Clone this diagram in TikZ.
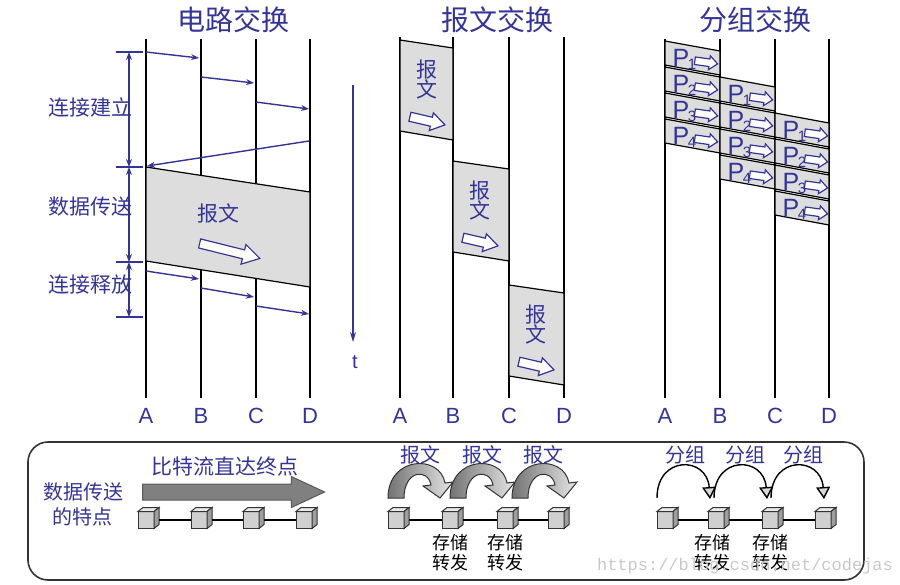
\documentclass[tikz,border=0pt]{standalone}
\usepackage{fontspec}
\setmainfont{Liberation Sans}
\newfontfamily\cjk{Noto Sans CJK SC}
\newfontfamily\wmfont{Liberation Mono}
\usetikzlibrary{arrows.meta, shapes.arrows}
\definecolor{inkblue}{RGB}{52,52,150}
\definecolor{bandgray}{RGB}{221,221,221}
\definecolor{cubefront}{RGB}{208,208,208}
\definecolor{cubetop}{RGB}{234,234,234}
\definecolor{cubeside}{RGB}{158,158,158}
\definecolor{markgray}{RGB}{200,200,200}

\tikzset{
  station/.style={line width=0.6pt},
  hop/.style={inkblue, line width=0.7pt, -{Stealth[length=4pt,width=3pt]}},
  span/.style={inkblue, line width=0.6pt, {Stealth[length=4pt,width=3pt]}-{Stealth[length=4pt,width=3pt]}},
  band/.style={fill=bandgray, draw=black, line width=0.6pt},
  title/.style={inkblue, font=\cjk\fontsize{14}{16}\selectfont},
  cnlabel/.style={inkblue, font=\cjk\fontsize{10.5}{12.5}\selectfont},
  letter/.style={inkblue, font=\fontsize{11}{13}\selectfont},
  hollow/.style={single arrow, draw=inkblue, fill=white, line width=0.6pt,
    inner xsep=0pt, outer sep=0pt, single arrow head indent=0pt},
  pktfwd/.style={line width=0.7pt, -{Triangle[length=6pt,width=7pt,fill=black!15]}},
  cubeface/.style={draw=black!80, fill=cubefront, line width=0.5pt, inner sep=0pt,
    outer sep=0pt, minimum width=8pt, minimum height=8.5pt},
  cubeedge/.style={draw=black!80, line width=0.5pt},
  link/.style={line width=0.6pt, shorten <=2.5pt},
  note/.style={font=\cjk\fontsize{9}{10}\selectfont},
}

\newcommand{\netcube}[2]{%
  \node[cubeface] (#1) at (#2) {};
  \draw[cubeedge, fill=cubetop] (#1.north west) -- ++(5,-4) -- ++(16,0) -- (#1.north east) -- cycle;
  \draw[cubeedge, fill=cubeside] (#1.north east) -- ++(5,-4) -- ++(0,17) -- (#1.south east) -- cycle;
}

\begin{document}
\begin{tikzpicture}[x=0.5pt, y=-0.5pt]
  \useasboundingbox (0,0) rectangle (900,584);

  % circuit switching
  \node[title] (ctitle) at (233,20) {电路交换};
  \foreach \x/\n in {146/A, 201/B, 256/C, 310/D} {
    \draw[station] (\x,39) -- (\x,398);
    \node[letter] (c\n) at (\x,416) {\n};
  }
  \draw[hop] (146,52) -- (199,58);
  \draw[hop] (201,77) -- (254,83);
  \draw[hop] (256,102) -- (309,109);
  \draw[hop] (309,141) -- (147,166);
  \draw[band] (146,167) -- (310,192) -- (310,287) -- (146,261) -- cycle;
  \node[cnlabel] (cmsg) at (218,213) {报文};
  \node[hollow, inner ysep=2pt, minimum width=9.5pt, minimum height=31pt,
    single arrow head extend=2.75pt, single arrow tip angle=62, rotate=-14] (carrow) at (226,250) {};
  \draw[hop] (146,271) -- (199,279);
  \draw[hop] (201,288) -- (254,297);
  \draw[hop] (256,306) -- (309,314);

  % phases on the left
  \foreach \y in {52,167,262,317}
    \draw[inkblue, line width=0.6pt] (116,\y) -- (143,\y);
  \draw[span] (129,52) -- (129,167);
  \draw[span] (129,167) -- (129,262);
  \draw[span] (129,262) -- (129,317);
  \node[cnlabel] (setup) at (90,107) {连接建立};
  \node[cnlabel] (xfer) at (90,207) {数据传送};
  \node[cnlabel] (rel) at (90,285) {连接释放};

  % time axis
  \draw[inkblue, line width=0.7pt, -{Stealth[length=5pt,width=3pt]}] (353,85) -- (353,342);
  \node[letter, font=\fontsize{10}{12}\selectfont] (time) at (355,362) {t};

  % message switching
  \node[title] (mtitle) at (497,20) {报文交换};
  \foreach \x/\n in {400/A, 453/B, 509/C, 564/D} {
    \draw[station] (\x,37) -- (\x,398);
    \node[letter] (m\n) at (\x,416) {\n};
  }
  \foreach \k/\xl/\xr/\yt in {1/400/453/40, 2/453/509/161, 3/509/564/285} {
    \draw[band] (\xl,\yt) -- (\xr,\yt+8) -- (\xr,\yt+100) -- (\xl,\yt+91) -- cycle;
    \node[cnlabel] (mbao\k) at (\xl+27,\yt+30) {报};
    \node[cnlabel] (mwen\k) at (\xl+27,\yt+49) {文};
    \node[hollow, inner ysep=2pt, minimum width=8.5pt, minimum height=18pt,
      single arrow head extend=2.25pt, single arrow tip angle=66, rotate=-13] (marrow\k) at (\xl+24,\yt+80) {};
  }

  % packet switching
  \node[title] (ptitle) at (755,20) {分组交换};
  \foreach \x/\n in {665/A, 720/B, 775/C, 829/D} {
    \draw[station] (\x,39) -- (\x,398);
    \node[letter] (p\n) at (\x,416) {\n};
  }
  \foreach \k/\xl/\xr in {0/665/720, 1/720/775, 2/775/829} {
    \foreach \i in {1,...,4} {
      \pgfmathsetmacro\yt{41+36*\k+26*(\i-1)}
      \draw[band] (\xl,\yt) -- (\xr,\yt+10) -- (\xr,\yt+34) -- (\xl,\yt+24) -- cycle;
      \node[inkblue, font=\fontsize{12.5}{14}\selectfont] (pp\k\i) at (\xl+16,\yt+17) {P};
      \node[inkblue, font=\fontsize{7.5}{8}\selectfont] (ps\k\i) at (\xl+27,\yt+23) {\i};
      \node[hollow, inner ysep=1.6pt, minimum width=6.4pt, minimum height=11.5pt,
        single arrow head extend=1.6pt, single arrow tip angle=80, rotate=-8] (pa\k\i) at (\xl+39,\yt+21) {};
    }
  }

  % features box
  \draw[line width=0.8pt, draw=black!80, rounded corners=10pt] (28,442) rectangle (864,580);
  \node[cnlabel, font=\cjk\fontsize{10}{12.5}\selectfont, align=center] (feat) at (83,504)
    {数据传送\\的特点};

  % bit stream
  \node[cnlabel] (bits) at (225,467) {比特流直达终点};
  \node[single arrow, draw=black!65, fill=black!50, line width=0.5pt, inner xsep=0pt,
    inner ysep=3.75pt, outer sep=0pt, minimum width=15pt, minimum height=91pt,
    single arrow head extend=3.75pt, single arrow tip angle=50,
    single arrow head indent=0pt] (stream) at (225,492) {};
  \netcube{ca}{146,520}
  \netcube{cb}{199,520}
  \netcube{cc}{251,520}
  \netcube{cd}{304,520}
  \draw[link] (ca) -- (cb);
  \draw[link] (cb) -- (cc);
  \draw[link] (cc) -- (cd);

  % store and forward, messages
  \foreach \fx in {388,450,512} {
    \begin{scope}[shift={(\fx,498)}]
      \draw[draw=black!80, line width=0.5pt, left color=black!55, right color=black!10]
        (0,0) .. controls (0,-42) and (52,-44) .. (57,-15)
        -- (65,-16) -- (52,0) -- (35,-12) -- (43,-13)
        .. controls (40,-30) and (16,-28) .. (16,0) -- cycle;
    \end{scope}
  }
  \node[cnlabel, font=\cjk\fontsize{10}{12}\selectfont] (mlab1) at (420,455) {报文};
  \node[cnlabel, font=\cjk\fontsize{10}{12}\selectfont] (mlab2) at (482,455) {报文};
  \node[cnlabel, font=\cjk\fontsize{10}{12}\selectfont] (mlab3) at (543,455) {报文};
  \netcube{ma}{396,520}
  \netcube{mb}{450,520}
  \netcube{mc}{505,520}
  \netcube{md}{556,520}
  \draw[link] (ma) -- (mb);
  \draw[link] (mb) -- (mc);
  \draw[link] (mc) -- (md);
  \node[note, align=center] (mstore1) at (450,553) {存储\\转发};
  \node[note, align=center] (mstore2) at (505,553) {存储\\转发};

  % store and forward, packets
  \foreach \fx in {657,714,771}
    \draw[pktfwd] (\fx,498) .. controls (\fx,455) and (\fx+50,456) .. (\fx+53,499);
  \node[cnlabel, font=\cjk\fontsize{10}{12}\selectfont] (plab1) at (685,455) {分组};
  \node[cnlabel, font=\cjk\fontsize{10}{12}\selectfont] (plab2) at (745,455) {分组};
  \node[cnlabel, font=\cjk\fontsize{10}{12}\selectfont] (plab3) at (803,455) {分组};
  \netcube{pa}{665,520}
  \netcube{pb}{716,520}
  \netcube{pc}{770,520}
  \netcube{pd}{823,520}
  \draw[link] (pa) -- (pb);
  \draw[link] (pb) -- (pc);
  \draw[link] (pc) -- (pd);
  \node[note, align=center] (pstore1) at (712,553) {存储\\转发};
  \node[note, align=center] (pstore2) at (770,553) {存储\\转发};

  % watermark
  \node[anchor=west, text=markgray, font=\wmfont\fontsize{8.5}{10}\selectfont] (mark)
    at (590,566) {https://blog.csdn.net/codejas};
\end{tikzpicture}
\end{document}
